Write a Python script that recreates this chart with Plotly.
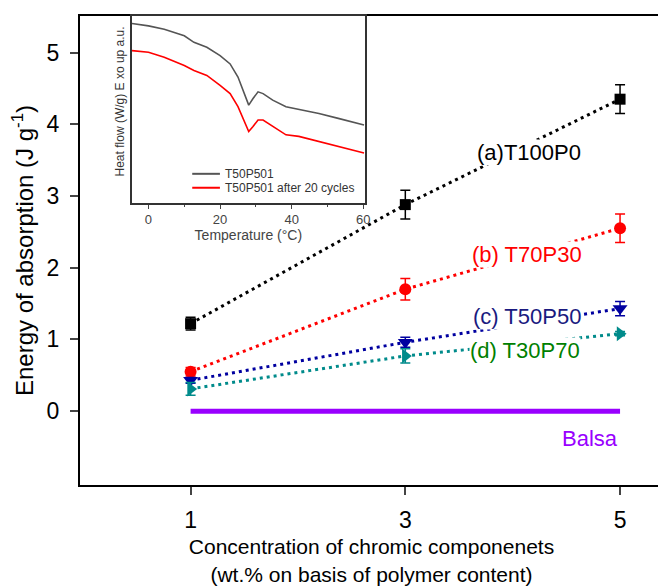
import plotly.graph_objects as go

# ---- main chart data ----
conc = [1, 3, 5]
a_vals = [1.22, 2.88, 4.35]
a_err = [0.09, 0.20, 0.20]
b_vals = [0.55, 1.70, 2.55]
b_err = [0.06, 0.15, 0.20]
c_vals = [0.43, 0.96, 1.43]
c_err = [0.04, 0.07, 0.10]
d_vals = [0.31, 0.77, 1.08]
d_err = [0.09, 0.10, 0.03]
balsa_vals = [0, 0, 0]
x_ticks = [1, 3, 5]
y_ticks = [0, 1, 2, 3, 4, 5]

# ---- inset DSC data ----
temp = [-4.6, 0, 4.4, 10, 12.7, 16.3, 20, 22.8, 25, 26.5, 28, 29.2, 30.6, 32,
        34.7, 38.4, 42, 47.6, 53, 56.7, 60.2]
hf_before = [93.7, 92.5, 90.8, 87.5, 84.2, 81.7, 77.5, 73.3, 66.7, 60, 52.5, 55.8,
             59.2, 58.3, 55, 51.7, 50.3, 48.3, 45.8, 44.2, 42.5]
hf_after = [80, 79.2, 76.7, 72.5, 70, 67.5, 62.5, 58.3, 51.7, 45, 39.2, 41.7,
            45, 45, 41.7, 37.5, 36.7, 34.2, 31.7, 30, 28.3]
inset_ticks = [0, 20, 40, 60]

FONT = "Liberation Sans, Arial, sans-serif"
DOT = "3px,4px"

fig = go.Figure()

def series(y, err, color, symbol, size):
    fig.add_trace(go.Scatter(
        x=conc, y=y, mode="lines+markers", showlegend=False,
        line=dict(color=color, width=3, dash=DOT),
        marker=dict(color=color, symbol=symbol, size=size),
        error_y=dict(type="data", array=err, visible=True, color=color,
                     thickness=1.5, width=5),
        xaxis="x", yaxis="y"))

series(a_vals, a_err, "black", "square", 11)
series(b_vals, b_err, "#ff0000", "circle", 12)
series(c_vals, c_err, "#0000a0", "triangle-down", 13)
series(d_vals, d_err, "#008b8b", "triangle-right", 13)

fig.add_trace(go.Scatter(
    x=conc, y=balsa_vals, mode="lines", showlegend=False,
    line=dict(color="#9900ff", width=5), xaxis="x", yaxis="y"))

# inset
fig.add_trace(go.Scatter(
    x=temp, y=hf_before, mode="lines", name="T50P501", showlegend=False,
    line=dict(color="#555555", width=1.6), xaxis="x2", yaxis="y2"))
fig.add_trace(go.Scatter(
    x=temp, y=hf_after, mode="lines", name="T50P501 after 20 cycles", showlegend=False,
    line=dict(color="#ff0000", width=1.6), xaxis="x2", yaxis="y2"))

labels = [
    (4.15, 3.61, "(a)T100P0", "black"),
    (4.13, 2.19, "(b) T70P30", "#ff0000"),
    (4.13, 1.32, "(c) T50P50", "#1a1a80"),
    (4.11, 0.85, "(d) T30P70", "#008000"),
]
annotations = []
for x, y, t, c in labels:
    annotations.append(dict(x=x, y=y, xref="x", yref="y", text=t, showarrow=False,
                            font=dict(family=FONT, size=22, color=c),
                            bgcolor="white", borderpad=0))
annotations.append(dict(x=5, y=-0.375, xref="x", yref="y", text="Balsa", showarrow=False,
                        xanchor="right", font=dict(family=FONT, size=22, color="#9900ff")))
annotations.append(dict(x=0.068, y=0.817, xref="paper", yref="paper",
                        xanchor="center", yanchor="middle",
                        text="Heat flow (W/g) E xo up a.u.", textangle=-90, showarrow=False,
                        font=dict(family=FONT, size=12, color="#333333")))

# inset legend (manual, compact)
leg_items = [("T50P501", "#555555", 0.6635), ("T50P501 after 20 cycles", "#ff0000", 0.6338)]
shapes = []
for name, col, yy in leg_items:
    shapes.append(dict(type="line", xref="paper", yref="paper", x0=0.1925, x1=0.240,
                       y0=yy, y1=yy, line=dict(color=col, width=2)))
    annotations.append(dict(x=0.2453, y=yy, xref="paper", yref="paper", text=name,
                            xanchor="left", yanchor="middle", showarrow=False,
                            font=dict(family=FONT, size=12, color="#333333")))

fig.update_layout(
    width=666, height=586,
    margin=dict(l=72, r=7, t=6, b=109),
    paper_bgcolor="white", plot_bgcolor="white",
    font=dict(family=FONT, color="black"),
    xaxis=dict(range=[-0.03, 5.4], tickvals=x_ticks, ticks="outside", ticklen=8, tickwidth=1.5,
               showline=True, mirror=True, linewidth=2, linecolor="black",
               showgrid=False, zeroline=False, tickfont=dict(size=23), ticklabelstandoff=5,
               automargin=False,
               title=dict(text="Concentration of chromic componenets<br>(wt.% on basis of polymer content)",
                          font=dict(size=21), standoff=8)),
    yaxis=dict(range=[-1.03, 5.51], tickvals=y_ticks, ticks="outside", ticklen=8, tickwidth=1.5,
               showline=True, mirror=True, linewidth=2, linecolor="black",
               showgrid=False, zeroline=False, tickfont=dict(size=23), ticklabelstandoff=6,
               automargin=False,
               title=dict(text="Energy of absorption (J g<sup>-1</sup>)", font=dict(size=24),
                          standoff=6)),
    xaxis2=dict(domain=[0.0886, 0.489], anchor="y2", range=[-4.7, 60.5], tickvals=inset_ticks,
                ticks="outside", ticklen=4, tickwidth=1, tickcolor="#444",
                minor=dict(dtick=10, ticks="outside", ticklen=2, tickcolor="#444"),
                showline=True, mirror=True, linewidth=1.5, linecolor="#333",
                showgrid=False, zeroline=False, tickfont=dict(size=13, color="#444"),
                title=dict(text="Temperature (°C)", font=dict(size=14, color="#444"), standoff=0)),
    yaxis2=dict(domain=[0.601, 1.0], anchor="x2", range=[3, 97.5], showticklabels=False,
                ticks="", showline=True, mirror=True, linewidth=1.5, linecolor="#333",
                showgrid=False, zeroline=False),
    annotations=annotations,
    shapes=shapes,
)

fig.write_html("out.html")
